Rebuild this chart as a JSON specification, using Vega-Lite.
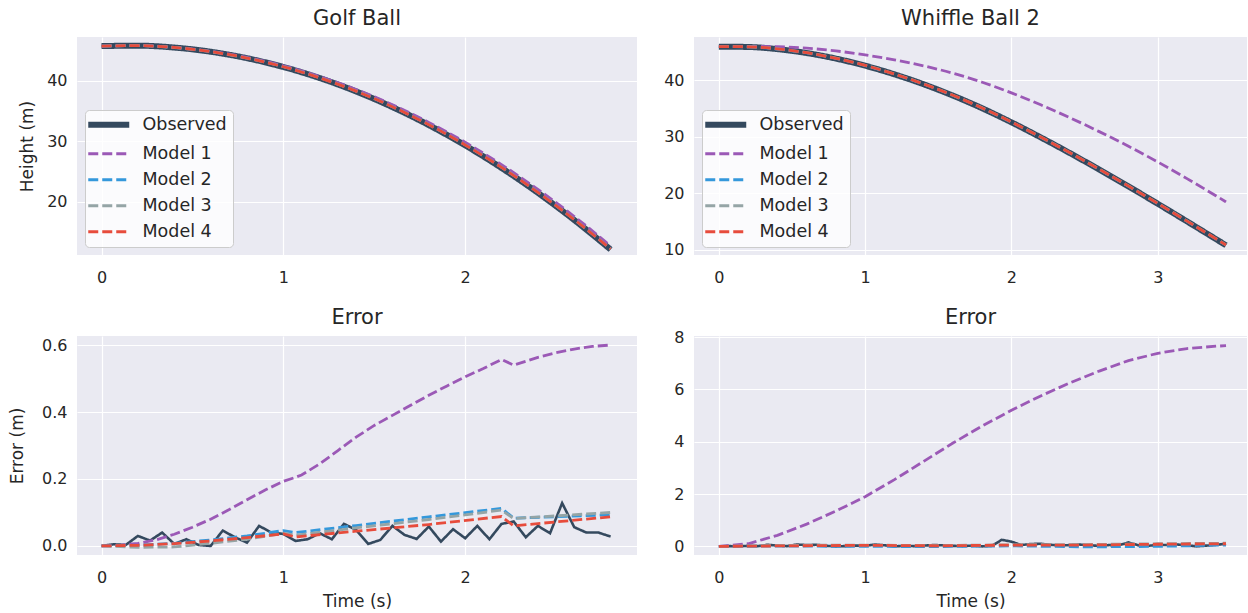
{
  "$schema": "https://vega.github.io/schema/vega-lite/v6.json",
  "usermeta": {"embedOptions": {"actions": false}},
  "background": "white",
  "padding": {"left": 8, "top": 8, "right": 0, "bottom": 0},
  "columns": 2,
  "bounds": "flush",
  "spacing": {"row": 81, "column": 57},
  "resolve": {
    "scale": {"color": "independent", "strokeDash": "independent"},
    "legend": {"color": "independent", "strokeDash": "independent"}
  },
  "datasets": {
    "d": [
      {"p":"gh","s":"Observed","t":0,"v":45.70},{"p":"gh","s":"Observed","t":0.2,"v":45.77},{"p":"gh","s":"Observed","t":0.4,"v":45.46},{"p":"gh","s":"Observed","t":0.6,"v":44.77},{"p":"gh","s":"Observed","t":0.8,"v":43.70},{"p":"gh","s":"Observed","t":1.0,"v":42.25},{"p":"gh","s":"Observed","t":1.2,"v":40.42},{"p":"gh","s":"Observed","t":1.4,"v":38.21},{"p":"gh","s":"Observed","t":1.6,"v":35.62},{"p":"gh","s":"Observed","t":1.8,"v":32.65},{"p":"gh","s":"Observed","t":2.0,"v":29.30},{"p":"gh","s":"Observed","t":2.2,"v":25.57},{"p":"gh","s":"Observed","t":2.4,"v":21.46},{"p":"gh","s":"Observed","t":2.6,"v":16.97},{"p":"gh","s":"Observed","t":2.8,"v":12.10},
      {"p":"gh","s":"Model 1","t":0,"v":45.70},{"p":"gh","s":"Model 1","t":0.2,"v":45.78},{"p":"gh","s":"Model 1","t":0.4,"v":45.50},{"p":"gh","s":"Model 1","t":0.6,"v":44.85},{"p":"gh","s":"Model 1","t":0.8,"v":43.84},{"p":"gh","s":"Model 1","t":1.0,"v":42.45},{"p":"gh","s":"Model 1","t":1.2,"v":40.67},{"p":"gh","s":"Model 1","t":1.4,"v":38.54},{"p":"gh","s":"Model 1","t":1.6,"v":36.01},{"p":"gh","s":"Model 1","t":1.8,"v":33.10},{"p":"gh","s":"Model 1","t":2.0,"v":29.81},{"p":"gh","s":"Model 1","t":2.2,"v":26.13},{"p":"gh","s":"Model 1","t":2.4,"v":22.03},{"p":"gh","s":"Model 1","t":2.6,"v":17.56},{"p":"gh","s":"Model 1","t":2.8,"v":12.70},
      {"p":"gh","s":"Model 2","t":0,"v":45.70},{"p":"gh","s":"Model 2","t":0.2,"v":45.77},{"p":"gh","s":"Model 2","t":0.4,"v":45.47},{"p":"gh","s":"Model 2","t":0.6,"v":44.79},{"p":"gh","s":"Model 2","t":0.8,"v":43.73},{"p":"gh","s":"Model 2","t":1.0,"v":42.30},{"p":"gh","s":"Model 2","t":1.2,"v":40.47},{"p":"gh","s":"Model 2","t":1.4,"v":38.28},{"p":"gh","s":"Model 2","t":1.6,"v":35.70},{"p":"gh","s":"Model 2","t":1.8,"v":32.74},{"p":"gh","s":"Model 2","t":2.0,"v":29.40},{"p":"gh","s":"Model 2","t":2.2,"v":25.68},{"p":"gh","s":"Model 2","t":2.4,"v":21.55},{"p":"gh","s":"Model 2","t":2.6,"v":17.06},{"p":"gh","s":"Model 2","t":2.8,"v":12.19},
      {"p":"gh","s":"Model 3","t":0,"v":45.70},{"p":"gh","s":"Model 3","t":0.2,"v":45.77},{"p":"gh","s":"Model 3","t":0.4,"v":45.46},{"p":"gh","s":"Model 3","t":0.6,"v":44.78},{"p":"gh","s":"Model 3","t":0.8,"v":43.72},{"p":"gh","s":"Model 3","t":1.0,"v":42.29},{"p":"gh","s":"Model 3","t":1.2,"v":40.46},{"p":"gh","s":"Model 3","t":1.4,"v":38.27},{"p":"gh","s":"Model 3","t":1.6,"v":35.69},{"p":"gh","s":"Model 3","t":1.8,"v":32.73},{"p":"gh","s":"Model 3","t":2.0,"v":29.39},{"p":"gh","s":"Model 3","t":2.2,"v":25.68},{"p":"gh","s":"Model 3","t":2.4,"v":21.55},{"p":"gh","s":"Model 3","t":2.6,"v":17.07},{"p":"gh","s":"Model 3","t":2.8,"v":12.20},
      {"p":"gh","s":"Model 4","t":0,"v":45.70},{"p":"gh","s":"Model 4","t":0.2,"v":45.77},{"p":"gh","s":"Model 4","t":0.4,"v":45.47},{"p":"gh","s":"Model 4","t":0.6,"v":44.79},{"p":"gh","s":"Model 4","t":0.8,"v":43.73},{"p":"gh","s":"Model 4","t":1.0,"v":42.29},{"p":"gh","s":"Model 4","t":1.2,"v":40.45},{"p":"gh","s":"Model 4","t":1.4,"v":38.26},{"p":"gh","s":"Model 4","t":1.6,"v":35.68},{"p":"gh","s":"Model 4","t":1.8,"v":32.72},{"p":"gh","s":"Model 4","t":2.0,"v":29.37},{"p":"gh","s":"Model 4","t":2.2,"v":25.66},{"p":"gh","s":"Model 4","t":2.4,"v":21.53},{"p":"gh","s":"Model 4","t":2.6,"v":17.05},{"p":"gh","s":"Model 4","t":2.8,"v":12.19},

      {"p":"wh","s":"Observed","t":0,"v":45.90},{"p":"wh","s":"Observed","t":0.2,"v":45.84},{"p":"wh","s":"Observed","t":0.4,"v":45.46},{"p":"wh","s":"Observed","t":0.6,"v":44.77},{"p":"wh","s":"Observed","t":0.8,"v":43.79},{"p":"wh","s":"Observed","t":1.0,"v":42.53},{"p":"wh","s":"Observed","t":1.2,"v":41.01},{"p":"wh","s":"Observed","t":1.4,"v":39.25},{"p":"wh","s":"Observed","t":1.6,"v":37.25},{"p":"wh","s":"Observed","t":1.8,"v":35.01},{"p":"wh","s":"Observed","t":2.0,"v":32.53},{"p":"wh","s":"Observed","t":2.2,"v":29.87},{"p":"wh","s":"Observed","t":2.4,"v":27.09},{"p":"wh","s":"Observed","t":2.6,"v":24.19},{"p":"wh","s":"Observed","t":2.8,"v":21.21},{"p":"wh","s":"Observed","t":3.0,"v":18.15},{"p":"wh","s":"Observed","t":3.2,"v":15.03},{"p":"wh","s":"Observed","t":3.4,"v":11.87},{"p":"wh","s":"Observed","t":3.4667,"v":10.81},
      {"p":"wh","s":"Model 1","t":0,"v":45.90},{"p":"wh","s":"Model 1","t":0.2,"v":45.94},{"p":"wh","s":"Model 1","t":0.4,"v":45.88},{"p":"wh","s":"Model 1","t":0.6,"v":45.62},{"p":"wh","s":"Model 1","t":0.8,"v":45.14},{"p":"wh","s":"Model 1","t":1.0,"v":44.43},{"p":"wh","s":"Model 1","t":1.2,"v":43.56},{"p":"wh","s":"Model 1","t":1.4,"v":42.50},{"p":"wh","s":"Model 1","t":1.6,"v":41.20},{"p":"wh","s":"Model 1","t":1.8,"v":39.61},{"p":"wh","s":"Model 1","t":2.0,"v":37.73},{"p":"wh","s":"Model 1","t":2.2,"v":35.62},{"p":"wh","s":"Model 1","t":2.4,"v":33.34},{"p":"wh","s":"Model 1","t":2.6,"v":30.89},{"p":"wh","s":"Model 1","t":2.8,"v":28.31},{"p":"wh","s":"Model 1","t":3.0,"v":25.53},{"p":"wh","s":"Model 1","t":3.2,"v":22.59},{"p":"wh","s":"Model 1","t":3.4,"v":19.52},{"p":"wh","s":"Model 1","t":3.4667,"v":18.48},
      {"p":"wh","s":"Model 2","t":0,"v":45.90},{"p":"wh","s":"Model 2","t":0.2,"v":45.86},{"p":"wh","s":"Model 2","t":0.4,"v":45.48},{"p":"wh","s":"Model 2","t":0.6,"v":44.80},{"p":"wh","s":"Model 2","t":0.8,"v":43.82},{"p":"wh","s":"Model 2","t":1.0,"v":42.56},{"p":"wh","s":"Model 2","t":1.2,"v":41.04},{"p":"wh","s":"Model 2","t":1.4,"v":39.28},{"p":"wh","s":"Model 2","t":1.6,"v":37.28},{"p":"wh","s":"Model 2","t":1.8,"v":35.04},{"p":"wh","s":"Model 2","t":2.0,"v":32.56},{"p":"wh","s":"Model 2","t":2.2,"v":29.90},{"p":"wh","s":"Model 2","t":2.4,"v":27.12},{"p":"wh","s":"Model 2","t":2.6,"v":24.22},{"p":"wh","s":"Model 2","t":2.8,"v":21.24},{"p":"wh","s":"Model 2","t":3.0,"v":18.18},{"p":"wh","s":"Model 2","t":3.2,"v":15.06},{"p":"wh","s":"Model 2","t":3.4,"v":11.90},{"p":"wh","s":"Model 2","t":3.4667,"v":10.84},
      {"p":"wh","s":"Model 3","t":0,"v":45.90},{"p":"wh","s":"Model 3","t":0.2,"v":45.88},{"p":"wh","s":"Model 3","t":0.4,"v":45.52},{"p":"wh","s":"Model 3","t":0.6,"v":44.84},{"p":"wh","s":"Model 3","t":0.8,"v":43.86},{"p":"wh","s":"Model 3","t":1.0,"v":42.60},{"p":"wh","s":"Model 3","t":1.2,"v":41.08},{"p":"wh","s":"Model 3","t":1.4,"v":39.32},{"p":"wh","s":"Model 3","t":1.6,"v":37.32},{"p":"wh","s":"Model 3","t":1.8,"v":35.08},{"p":"wh","s":"Model 3","t":2.0,"v":32.60},{"p":"wh","s":"Model 3","t":2.2,"v":29.94},{"p":"wh","s":"Model 3","t":2.4,"v":27.16},{"p":"wh","s":"Model 3","t":2.6,"v":24.26},{"p":"wh","s":"Model 3","t":2.8,"v":21.28},{"p":"wh","s":"Model 3","t":3.0,"v":18.22},{"p":"wh","s":"Model 3","t":3.2,"v":15.10},{"p":"wh","s":"Model 3","t":3.4,"v":11.94},{"p":"wh","s":"Model 3","t":3.4667,"v":10.88},
      {"p":"wh","s":"Model 4","t":0,"v":45.90},{"p":"wh","s":"Model 4","t":0.2,"v":45.87},{"p":"wh","s":"Model 4","t":0.4,"v":45.50},{"p":"wh","s":"Model 4","t":0.6,"v":44.82},{"p":"wh","s":"Model 4","t":0.8,"v":43.84},{"p":"wh","s":"Model 4","t":1.0,"v":42.58},{"p":"wh","s":"Model 4","t":1.2,"v":41.06},{"p":"wh","s":"Model 4","t":1.4,"v":39.30},{"p":"wh","s":"Model 4","t":1.6,"v":37.30},{"p":"wh","s":"Model 4","t":1.8,"v":35.06},{"p":"wh","s":"Model 4","t":2.0,"v":32.58},{"p":"wh","s":"Model 4","t":2.2,"v":29.92},{"p":"wh","s":"Model 4","t":2.4,"v":27.14},{"p":"wh","s":"Model 4","t":2.6,"v":24.24},{"p":"wh","s":"Model 4","t":2.8,"v":21.26},{"p":"wh","s":"Model 4","t":3.0,"v":18.20},{"p":"wh","s":"Model 4","t":3.2,"v":15.08},{"p":"wh","s":"Model 4","t":3.4,"v":11.92},{"p":"wh","s":"Model 4","t":3.4667,"v":10.86},

      {"p":"ge","s":"Observed","t":0,"v":0.000},{"p":"ge","s":"Observed","t":0.0667,"v":0.005},{"p":"ge","s":"Observed","t":0.1333,"v":0.003},{"p":"ge","s":"Observed","t":0.2,"v":0.030},{"p":"ge","s":"Observed","t":0.2667,"v":0.016},{"p":"ge","s":"Observed","t":0.3333,"v":0.040},{"p":"ge","s":"Observed","t":0.4,"v":0.006},{"p":"ge","s":"Observed","t":0.4667,"v":0.020},{"p":"ge","s":"Observed","t":0.5333,"v":0.003},{"p":"ge","s":"Observed","t":0.6,"v":0.000},{"p":"ge","s":"Observed","t":0.6667,"v":0.046},{"p":"ge","s":"Observed","t":0.7333,"v":0.026},{"p":"ge","s":"Observed","t":0.8,"v":0.010},{"p":"ge","s":"Observed","t":0.8667,"v":0.060},{"p":"ge","s":"Observed","t":0.9333,"v":0.040},{"p":"ge","s":"Observed","t":1.0,"v":0.036},{"p":"ge","s":"Observed","t":1.0667,"v":0.015},{"p":"ge","s":"Observed","t":1.1333,"v":0.020},{"p":"ge","s":"Observed","t":1.2,"v":0.038},{"p":"ge","s":"Observed","t":1.2667,"v":0.020},{"p":"ge","s":"Observed","t":1.3333,"v":0.066},{"p":"ge","s":"Observed","t":1.4,"v":0.048},{"p":"ge","s":"Observed","t":1.4667,"v":0.006},{"p":"ge","s":"Observed","t":1.5333,"v":0.018},{"p":"ge","s":"Observed","t":1.6,"v":0.060},{"p":"ge","s":"Observed","t":1.6667,"v":0.033},{"p":"ge","s":"Observed","t":1.7333,"v":0.021},{"p":"ge","s":"Observed","t":1.8,"v":0.058},{"p":"ge","s":"Observed","t":1.8667,"v":0.013},{"p":"ge","s":"Observed","t":1.9333,"v":0.050},{"p":"ge","s":"Observed","t":2.0,"v":0.023},{"p":"ge","s":"Observed","t":2.0667,"v":0.060},{"p":"ge","s":"Observed","t":2.1333,"v":0.020},{"p":"ge","s":"Observed","t":2.2,"v":0.066},{"p":"ge","s":"Observed","t":2.2667,"v":0.073},{"p":"ge","s":"Observed","t":2.3333,"v":0.026},{"p":"ge","s":"Observed","t":2.4,"v":0.060},{"p":"ge","s":"Observed","t":2.4667,"v":0.038},{"p":"ge","s":"Observed","t":2.5333,"v":0.128},{"p":"ge","s":"Observed","t":2.6,"v":0.056},{"p":"ge","s":"Observed","t":2.6667,"v":0.040},{"p":"ge","s":"Observed","t":2.7333,"v":0.040},{"p":"ge","s":"Observed","t":2.8,"v":0.028},
      {"p":"ge","s":"Model 1","t":0,"v":0},{"p":"ge","s":"Model 1","t":0.1,"v":0.002},{"p":"ge","s":"Model 1","t":0.2,"v":0.008},{"p":"ge","s":"Model 1","t":0.3,"v":0.018},{"p":"ge","s":"Model 1","t":0.4,"v":0.035},{"p":"ge","s":"Model 1","t":0.5,"v":0.056},{"p":"ge","s":"Model 1","t":0.6,"v":0.080},{"p":"ge","s":"Model 1","t":0.7,"v":0.108},{"p":"ge","s":"Model 1","t":0.8,"v":0.138},{"p":"ge","s":"Model 1","t":0.9,"v":0.167},{"p":"ge","s":"Model 1","t":1.0,"v":0.193},{"p":"ge","s":"Model 1","t":1.0667,"v":0.205},{"p":"ge","s":"Model 1","t":1.1,"v":0.212},{"p":"ge","s":"Model 1","t":1.2,"v":0.245},{"p":"ge","s":"Model 1","t":1.3,"v":0.285},{"p":"ge","s":"Model 1","t":1.4,"v":0.325},{"p":"ge","s":"Model 1","t":1.5,"v":0.360},{"p":"ge","s":"Model 1","t":1.6,"v":0.390},{"p":"ge","s":"Model 1","t":1.7,"v":0.420},{"p":"ge","s":"Model 1","t":1.8,"v":0.450},{"p":"ge","s":"Model 1","t":1.9,"v":0.478},{"p":"ge","s":"Model 1","t":2.0,"v":0.505},{"p":"ge","s":"Model 1","t":2.1,"v":0.530},{"p":"ge","s":"Model 1","t":2.2,"v":0.557},{"p":"ge","s":"Model 1","t":2.2667,"v":0.540},{"p":"ge","s":"Model 1","t":2.4,"v":0.563},{"p":"ge","s":"Model 1","t":2.5,"v":0.577},{"p":"ge","s":"Model 1","t":2.6,"v":0.588},{"p":"ge","s":"Model 1","t":2.7,"v":0.596},{"p":"ge","s":"Model 1","t":2.8,"v":0.600},
      {"p":"ge","s":"Model 2","t":0,"v":0},{"p":"ge","s":"Model 2","t":0.2,"v":0.002},{"p":"ge","s":"Model 2","t":0.4,"v":0.008},{"p":"ge","s":"Model 2","t":0.6,"v":0.018},{"p":"ge","s":"Model 2","t":0.8,"v":0.030},{"p":"ge","s":"Model 2","t":1.0,"v":0.046},{"p":"ge","s":"Model 2","t":1.0667,"v":0.040},{"p":"ge","s":"Model 2","t":1.4,"v":0.061},{"p":"ge","s":"Model 2","t":1.8,"v":0.087},{"p":"ge","s":"Model 2","t":2.2,"v":0.112},{"p":"ge","s":"Model 2","t":2.2667,"v":0.083},{"p":"ge","s":"Model 2","t":2.8,"v":0.093},
      {"p":"ge","s":"Model 3","t":0,"v":0},{"p":"ge","s":"Model 3","t":0.2,"v":-0.004},{"p":"ge","s":"Model 3","t":0.4,"v":-0.003},{"p":"ge","s":"Model 3","t":0.6,"v":0.008},{"p":"ge","s":"Model 3","t":0.8,"v":0.020},{"p":"ge","s":"Model 3","t":1.0,"v":0.038},{"p":"ge","s":"Model 3","t":1.0667,"v":0.032},{"p":"ge","s":"Model 3","t":1.4,"v":0.054},{"p":"ge","s":"Model 3","t":1.8,"v":0.079},{"p":"ge","s":"Model 3","t":2.2,"v":0.107},{"p":"ge","s":"Model 3","t":2.2667,"v":0.082},{"p":"ge","s":"Model 3","t":2.8,"v":0.100},
      {"p":"ge","s":"Model 4","t":0,"v":0},{"p":"ge","s":"Model 4","t":0.2,"v":0.002},{"p":"ge","s":"Model 4","t":0.4,"v":0.007},{"p":"ge","s":"Model 4","t":0.6,"v":0.015},{"p":"ge","s":"Model 4","t":0.8,"v":0.025},{"p":"ge","s":"Model 4","t":1.0,"v":0.036},{"p":"ge","s":"Model 4","t":1.0667,"v":0.027},{"p":"ge","s":"Model 4","t":1.4,"v":0.044},{"p":"ge","s":"Model 4","t":1.8,"v":0.064},{"p":"ge","s":"Model 4","t":2.2,"v":0.088},{"p":"ge","s":"Model 4","t":2.2667,"v":0.060},{"p":"ge","s":"Model 4","t":2.8,"v":0.087},

      {"p":"we","s":"Observed","t":0,"v":0.00},{"p":"we","s":"Observed","t":0.0667,"v":0.01},{"p":"we","s":"Observed","t":0.1333,"v":0.00},{"p":"we","s":"Observed","t":0.2,"v":0.02},{"p":"we","s":"Observed","t":0.2667,"v":0.01},{"p":"we","s":"Observed","t":0.3333,"v":0.06},{"p":"we","s":"Observed","t":0.4,"v":0.03},{"p":"we","s":"Observed","t":0.4667,"v":0.01},{"p":"we","s":"Observed","t":0.5333,"v":0.07},{"p":"we","s":"Observed","t":0.6,"v":0.05},{"p":"we","s":"Observed","t":0.6667,"v":0.06},{"p":"we","s":"Observed","t":0.7333,"v":0.02},{"p":"we","s":"Observed","t":0.8,"v":0.00},{"p":"we","s":"Observed","t":0.8667,"v":0.01},{"p":"we","s":"Observed","t":0.9333,"v":0.03},{"p":"we","s":"Observed","t":1.0,"v":0.02},{"p":"we","s":"Observed","t":1.0667,"v":0.07},{"p":"we","s":"Observed","t":1.1333,"v":0.04},{"p":"we","s":"Observed","t":1.2,"v":0.00},{"p":"we","s":"Observed","t":1.2667,"v":0.02},{"p":"we","s":"Observed","t":1.3333,"v":0.01},{"p":"we","s":"Observed","t":1.4,"v":0.03},{"p":"we","s":"Observed","t":1.4667,"v":0.05},{"p":"we","s":"Observed","t":1.5333,"v":0.04},{"p":"we","s":"Observed","t":1.6,"v":0.02},{"p":"we","s":"Observed","t":1.6667,"v":0.01},{"p":"we","s":"Observed","t":1.7333,"v":0.03},{"p":"we","s":"Observed","t":1.8,"v":0.00},{"p":"we","s":"Observed","t":1.8667,"v":0.02},{"p":"we","s":"Observed","t":1.9333,"v":0.25},{"p":"we","s":"Observed","t":2.0,"v":0.18},{"p":"we","s":"Observed","t":2.0667,"v":0.05},{"p":"we","s":"Observed","t":2.1333,"v":0.09},{"p":"we","s":"Observed","t":2.2,"v":0.10},{"p":"we","s":"Observed","t":2.2667,"v":0.06},{"p":"we","s":"Observed","t":2.3333,"v":0.03},{"p":"we","s":"Observed","t":2.4,"v":0.05},{"p":"we","s":"Observed","t":2.4667,"v":0.07},{"p":"we","s":"Observed","t":2.5333,"v":0.04},{"p":"we","s":"Observed","t":2.6,"v":0.02},{"p":"we","s":"Observed","t":2.6667,"v":0.05},{"p":"we","s":"Observed","t":2.7333,"v":0.04},{"p":"we","s":"Observed","t":2.8,"v":0.15},{"p":"we","s":"Observed","t":2.8667,"v":0.04},{"p":"we","s":"Observed","t":2.9333,"v":0.02},{"p":"we","s":"Observed","t":3.0,"v":0.06},{"p":"we","s":"Observed","t":3.0667,"v":0.05},{"p":"we","s":"Observed","t":3.1333,"v":0.07},{"p":"we","s":"Observed","t":3.2,"v":0.04},{"p":"we","s":"Observed","t":3.2667,"v":0.00},{"p":"we","s":"Observed","t":3.3333,"v":0.03},{"p":"we","s":"Observed","t":3.4,"v":0.06},{"p":"we","s":"Observed","t":3.4667,"v":0.10},
      {"p":"we","s":"Model 1","t":0,"v":0},{"p":"we","s":"Model 1","t":0.2,"v":0.10},{"p":"we","s":"Model 1","t":0.4,"v":0.42},{"p":"we","s":"Model 1","t":0.6,"v":0.85},{"p":"we","s":"Model 1","t":0.8,"v":1.35},{"p":"we","s":"Model 1","t":1.0,"v":1.90},{"p":"we","s":"Model 1","t":1.2,"v":2.55},{"p":"we","s":"Model 1","t":1.4,"v":3.25},{"p":"we","s":"Model 1","t":1.6,"v":3.95},{"p":"we","s":"Model 1","t":1.8,"v":4.60},{"p":"we","s":"Model 1","t":2.0,"v":5.20},{"p":"we","s":"Model 1","t":2.2,"v":5.75},{"p":"we","s":"Model 1","t":2.4,"v":6.25},{"p":"we","s":"Model 1","t":2.6,"v":6.70},{"p":"we","s":"Model 1","t":2.8,"v":7.10},{"p":"we","s":"Model 1","t":3.0,"v":7.38},{"p":"we","s":"Model 1","t":3.2,"v":7.56},{"p":"we","s":"Model 1","t":3.4,"v":7.65},{"p":"we","s":"Model 1","t":3.4667,"v":7.67},
      {"p":"we","s":"Model 2","t":0,"v":0},{"p":"we","s":"Model 2","t":0.5,"v":0.01},{"p":"we","s":"Model 2","t":1.0,"v":0.0},{"p":"we","s":"Model 2","t":1.5,"v":-0.01},{"p":"we","s":"Model 2","t":2.0,"v":0.02},{"p":"we","s":"Model 2","t":2.5,"v":-0.02},{"p":"we","s":"Model 2","t":3.0,"v":0.0},{"p":"we","s":"Model 2","t":3.4667,"v":0.05},
      {"p":"we","s":"Model 3","t":0,"v":0},{"p":"we","s":"Model 3","t":0.5,"v":0.04},{"p":"we","s":"Model 3","t":1.0,"v":0.05},{"p":"we","s":"Model 3","t":1.5,"v":0.03},{"p":"we","s":"Model 3","t":2.0,"v":0.06},{"p":"we","s":"Model 3","t":2.5,"v":0.07},{"p":"we","s":"Model 3","t":3.0,"v":0.10},{"p":"we","s":"Model 3","t":3.4667,"v":0.12},
      {"p":"we","s":"Model 4","t":0,"v":0},{"p":"we","s":"Model 4","t":0.5,"v":0.02},{"p":"we","s":"Model 4","t":1.0,"v":0.04},{"p":"we","s":"Model 4","t":1.5,"v":0.02},{"p":"we","s":"Model 4","t":2.0,"v":0.05},{"p":"we","s":"Model 4","t":2.5,"v":0.05},{"p":"we","s":"Model 4","t":3.0,"v":0.08},{"p":"we","s":"Model 4","t":3.4667,"v":0.10}
    ]
  },
  "concat": [
    {
      "title": "Golf Ball",
      "width": 560, "height": 218,
      "data": {"name": "d"},
      "transform": [{"filter": "datum.p === 'gh'"}],
      "encoding": {
        "x": {"field": "t", "type": "quantitative", "scale": {"domain": [-0.135, 2.945], "nice": false, "zero": false}, "axis": {"values": [0, 1, 2], "title": null}},
        "y": {"field": "v", "type": "quantitative", "scale": {"domain": [11.2, 47.2], "nice": false, "zero": false}, "axis": {"values": [20, 30, 40], "title": "Height (m)", "titlePadding": 10}},
        "color": {"field": "s", "type": "nominal", "scale": {"domain": ["Observed", "Model 1", "Model 2", "Model 3", "Model 4"], "range": ["#34495e", "#9b59b6", "#3498db", "#95a5a6", "#e74c3c"]}, "legend": {"title": null, "encode": {"symbols": {"update": {"strokeWidth": {"signal": "datum.value === 'Observed' ? 6 : 2.8"}}}}}},
        "strokeDash": {"field": "s", "type": "nominal", "scale": {"domain": ["Observed", "Model 1", "Model 2", "Model 3", "Model 4"], "range": [[1, 0], [10, 4], [10, 4], [10, 4], [10, 4]]}, "legend": {"title": null}}
      },
      "layer": [
        {"transform": [{"filter": "datum.s === 'Observed'"}], "mark": {"type": "line", "strokeWidth": 6, "interpolate": "monotone", "clip": true}},
        {"transform": [{"filter": "datum.s !== 'Observed'"}], "mark": {"type": "line", "strokeWidth": 2.8, "interpolate": "monotone", "clip": true}}
      ]
    },
    {
      "title": "Whiffle Ball 2",
      "width": 553, "height": 218,
      "data": {"name": "d"},
      "transform": [{"filter": "datum.p === 'wh'"}],
      "encoding": {
        "x": {"field": "t", "type": "quantitative", "scale": {"domain": [-0.17, 3.61], "nice": false, "zero": false}, "axis": {"values": [0, 1, 2, 3], "title": null}},
        "y": {"field": "v", "type": "quantitative", "scale": {"domain": [9.1, 47.6], "nice": false, "zero": false}, "axis": {"values": [10, 20, 30, 40], "title": null}},
        "color": {"field": "s", "type": "nominal", "scale": {"domain": ["Observed", "Model 1", "Model 2", "Model 3", "Model 4"], "range": ["#34495e", "#9b59b6", "#3498db", "#95a5a6", "#e74c3c"]}, "legend": {"title": null, "encode": {"symbols": {"update": {"strokeWidth": {"signal": "datum.value === 'Observed' ? 6 : 2.8"}}}}}},
        "strokeDash": {"field": "s", "type": "nominal", "scale": {"domain": ["Observed", "Model 1", "Model 2", "Model 3", "Model 4"], "range": [[1, 0], [10, 4], [10, 4], [10, 4], [10, 4]]}, "legend": {"title": null}}
      },
      "layer": [
        {"transform": [{"filter": "datum.s === 'Observed'"}], "mark": {"type": "line", "strokeWidth": 6, "interpolate": "monotone", "clip": true}},
        {"transform": [{"filter": "datum.s !== 'Observed'"}], "mark": {"type": "line", "strokeWidth": 2.8, "interpolate": "monotone", "clip": true}}
      ]
    },
    {
      "title": "Error",
      "width": 560, "height": 219,
      "data": {"name": "d"},
      "transform": [{"filter": "datum.p === 'ge'"}],
      "encoding": {
        "x": {"field": "t", "type": "quantitative", "scale": {"domain": [-0.135, 2.945], "nice": false, "zero": false}, "axis": {"values": [0, 1, 2], "title": "Time (s)"}},
        "y": {"field": "v", "type": "quantitative", "scale": {"domain": [-0.027, 0.627], "nice": false, "zero": false}, "axis": {"values": [0, 0.2, 0.4, 0.6], "format": ".1f", "title": "Error (m)", "titlePadding": 15}},
        "color": {"field": "s", "type": "nominal", "scale": {"domain": ["Observed", "Model 1", "Model 2", "Model 3", "Model 4"], "range": ["#34495e", "#9b59b6", "#3498db", "#95a5a6", "#e74c3c"]}, "legend": null},
        "strokeDash": {"field": "s", "type": "nominal", "scale": {"domain": ["Observed", "Model 1", "Model 2", "Model 3", "Model 4"], "range": [[1, 0], [10, 4], [10, 4], [10, 4], [10, 4]]}, "legend": null}
      },
      "layer": [
        {"transform": [{"filter": "datum.s === 'Observed'"}], "mark": {"type": "line", "strokeWidth": 2.6, "clip": true}},
        {"transform": [{"filter": "datum.s !== 'Observed'"}], "mark": {"type": "line", "strokeWidth": 2.8, "clip": true}}
      ]
    },
    {
      "title": {"text": "Error", "dy": 7},
      "width": 553, "height": 219,
      "data": {"name": "d"},
      "transform": [{"filter": "datum.p === 'we'"}],
      "encoding": {
        "x": {"field": "t", "type": "quantitative", "scale": {"domain": [-0.17, 3.61], "nice": false, "zero": false}, "axis": {"values": [0, 1, 2, 3], "title": "Time (s)"}},
        "y": {"field": "v", "type": "quantitative", "scale": {"domain": [-0.33, 8.04], "nice": false, "zero": false}, "axis": {"values": [0, 2, 4, 6, 8], "title": null}},
        "color": {"field": "s", "type": "nominal", "scale": {"domain": ["Observed", "Model 1", "Model 2", "Model 3", "Model 4"], "range": ["#34495e", "#9b59b6", "#3498db", "#95a5a6", "#e74c3c"]}, "legend": null},
        "strokeDash": {"field": "s", "type": "nominal", "scale": {"domain": ["Observed", "Model 1", "Model 2", "Model 3", "Model 4"], "range": [[1, 0], [10, 4], [10, 4], [10, 4], [10, 4]]}, "legend": null}
      },
      "layer": [
        {"transform": [{"filter": "datum.s === 'Observed'"}], "mark": {"type": "line", "strokeWidth": 2.6, "clip": true}},
        {"transform": [{"filter": "datum.s !== 'Observed'"}], "mark": {"type": "line", "strokeWidth": 2.8, "clip": true}}
      ]
    }
  ],
  "config": {
    "font": "DejaVu Sans",
    "view": {"fill": "#eaeaf2", "stroke": null},
    "axis": {"domain": false, "ticks": false, "grid": true, "gridColor": "#ffffff", "gridWidth": 1.2, "labelFont": "DejaVu Sans", "labelFontSize": 16, "labelColor": "#262626", "labelFlush": false, "titleFont": "DejaVu Sans", "titleFontSize": 17, "titleFontWeight": "normal", "titleColor": "#262626"},
    "axisX": {"labelPadding": 14, "titlePadding": 8},
    "axisY": {"labelPadding": 10, "titlePadding": 10},
    "title": {"font": "DejaVu Sans", "fontSize": 21, "fontWeight": "normal", "color": "#262626", "offset": 8, "frame": "group"},
    "legend": {"orient": "bottom-left", "offset": 8, "padding": 6, "fillColor": "rgba(255,255,255,0.8)", "strokeColor": "#cccccc", "cornerRadius": 4, "symbolType": "stroke", "symbolSize": 1681, "symbolOffset": 9, "labelFont": "DejaVu Sans", "labelFontSize": 17.5, "labelColor": "#262626", "labelOffset": 25, "rowPadding": 7}
  }
}
